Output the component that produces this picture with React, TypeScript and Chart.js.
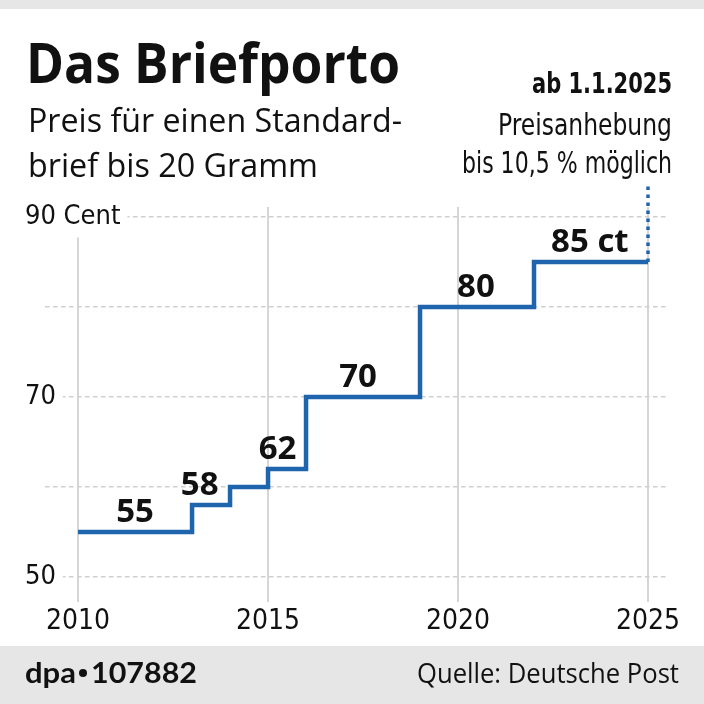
import { useEffect, useRef } from 'react';
import { Chart, registerables } from 'chart.js';

Chart.register(...registerables);

// ---- data ----
const years = [2010, 2013, 2014, 2015, 2016, 2019, 2022, 2025];
const prices = [55, 58, 60, 62, 70, 80, 85, 85];
const labelYears = [2011.5, 2013.2, 2015.25, 2017.37, 2020.47, 2023.47];
const labelValues = [55, 58, 62, 70, 80, 85];
const labelTexts = ['55', '58', '62', '70', '80', '85 ct'];
const markerYears = [2025, 2025];
const markerValues = [85, 93.8];
const xTicks = [2010, 2015, 2020, 2025];
const yTicks = [50, 60, 70, 80, 90];
const yTickLabels = ['50', '', '70', '', '90 Cent'];

const BLUE = '#1f65ad';
const NARROW = "'Liberation Sans Narrow', 'DejaVu Sans Condensed', sans-serif";
const HUMAN = "'Open Sans', 'Liberation Sans', sans-serif";

function fitText(
  ctx: CanvasRenderingContext2D,
  text: string,
  x: number,
  y: number,
  width: number,
  font: string,
  align: CanvasTextAlign,
) {
  ctx.save();
  ctx.font = font;
  const w = ctx.measureText(text).width;
  const sx = width / w;
  ctx.translate(x, y);
  ctx.scale(sx, 1);
  ctx.textAlign = align;
  ctx.textBaseline = 'alphabetic';
  ctx.fillStyle = '#111';
  ctx.fillText(text, 0, 0);
  ctx.restore();
}

const decorPlugin = {
  id: 'decor',
  beforeDraw(chart: any) {
    const ctx = chart.ctx as CanvasRenderingContext2D;
    ctx.save();
    ctx.fillStyle = '#ffffff';
    ctx.fillRect(0, 0, 704, 704);
    ctx.fillStyle = '#e6e6e6';
    ctx.fillRect(0, 0, 704, 9);
    ctx.fillRect(0, 646, 704, 58);
    ctx.restore();
  },
  afterDatasetsDraw(chart: any) {
    const ctx = chart.ctx as CanvasRenderingContext2D;
    const xs = chart.scales.x;
    const ys = chart.scales.y;
    ctx.save();
    ctx.font = `bold 33px ${HUMAN}`;
    ctx.fillStyle = '#111';
    ctx.textAlign = 'center';
    ctx.textBaseline = 'alphabetic';
    labelTexts.forEach((t, i) => {
      const px = xs.getPixelForValue(labelYears[i]);
      const py = ys.getPixelForValue(labelValues[i]);
      ctx.fillText(t, px, py - 10);
    });
    ctx.restore();
  },
  afterDraw(chart: any) {
    const ctx = chart.ctx as CanvasRenderingContext2D;
    fitText(ctx, 'Das Briefporto', 26, 83, 374, `bold 56px ${HUMAN}`, 'left');
    fitText(ctx, 'Preis für einen Standard-', 28, 132, 374, `32px ${HUMAN}`, 'left');
    fitText(ctx, 'brief bis 20 Gramm', 28, 177, 290, `32px ${HUMAN}`, 'left');
    fitText(ctx, 'ab 1.1.2025', 672, 93, 140, `bold 28px ${NARROW}`, 'right');
    fitText(ctx, 'Preisanhebung', 672, 135, 174, `30px ${NARROW}`, 'right');
    fitText(ctx, 'bis 10,5 % möglich', 672, 173, 210, `30px ${NARROW}`, 'right');
    // footer credit: "dpa", a small bullet, then the number
    fitText(ctx, 'dpa', 25, 683, 51, `bold 28px 'Lato', ${HUMAN}`, 'left');
    ctx.save();
    ctx.fillStyle = '#111';
    ctx.beginPath();
    ctx.arc(83, 673, 4, 0, Math.PI * 2);
    ctx.fill();
    ctx.restore();
    fitText(ctx, '107882', 91, 683, 106, `bold 28px 'Lato', ${HUMAN}`, 'left');
    fitText(ctx, 'Quelle: Deutsche Post', 679, 683, 262, `27px ${HUMAN}`, 'right');
  },
};

export default function App() {
  const ref = useRef<HTMLCanvasElement | null>(null);

  useEffect(() => {
    if (!ref.current) return;
    const chart = new Chart(ref.current, {
      type: 'line',
      data: {
        datasets: [
          {
            data: years.map((x, i) => ({ x, y: prices[i] })),
            stepped: true,
            borderColor: BLUE,
            borderWidth: 4.5,
            pointRadius: 0,
            fill: false,
            borderCapStyle: 'butt',
            borderJoinStyle: 'miter',
          },
          {
            data: markerYears.map((x, i) => ({ x, y: markerValues[i] })),
            borderColor: BLUE,
            borderWidth: 3.5,
            borderDash: [3.5, 4.5],
            pointRadius: 0,
            fill: false,
            clip: false,
          } as any,
        ],
      },
      options: {
        responsive: false,
        animation: false,
        events: [],
        layout: { padding: { left: 25, right: 37, top: 207, bottom: 62 } },
        plugins: { legend: { display: false }, tooltip: { enabled: false } },
        scales: {
          x: {
            type: 'linear',
            min: 2009.13,
            max: 2025.5,
            afterBuildTicks: (s: any) => {
              s.ticks = xTicks.map((v) => ({ value: v }));
            },
            afterFit: (s: any) => {
              s.height = 40;
            },
            grid: { color: '#d6d6d6', lineWidth: 2, drawTicks: false },
            border: { display: false },
            ticks: {
              autoSkip: false,
              maxRotation: 0,
              padding: 6,
              color: '#111',
              font: { family: NARROW, size: 28, lineHeight: 1 },
              callback: (v: any) => String(v),
            },
          },
          y: {
            type: 'linear',
            min: 47.22,
            max: 91.11,
            afterBuildTicks: (s: any) => {
              s.ticks = yTicks.map((v) => ({ value: v }));
            },
            afterFit: (s: any) => {
              s.width = 20;
            },
            grid: { color: '#cfcfcf', lineWidth: 1.5, drawTicks: false },
            border: { display: false, dash: [4.5, 3.5] },
            ticks: {
              autoSkip: false,
              mirror: true,
              padding: -20,
              crossAlign: 'near',
              color: '#111',
              font: { family: NARROW, size: 27, lineHeight: 1 },
              showLabelBackdrop: true,
              backdropColor: '#ffffff',
              backdropPadding: { top: 3, bottom: 7, left: 2, right: 7 },
              callback: (v: any) => {
                const i = yTicks.indexOf(Number(v));
                return i >= 0 ? yTickLabels[i] : '';
              },
            },
          },
        },
      },
      plugins: [decorPlugin],
    } as any);
    return () => chart.destroy();
  }, []);

  return (
    <div style={{ position: 'fixed', left: 0, top: 0, width: 704, height: 704 }}>
      <canvas ref={ref} width={704} height={704} style={{ width: 704, height: 704 }} />
    </div>
  );
}
